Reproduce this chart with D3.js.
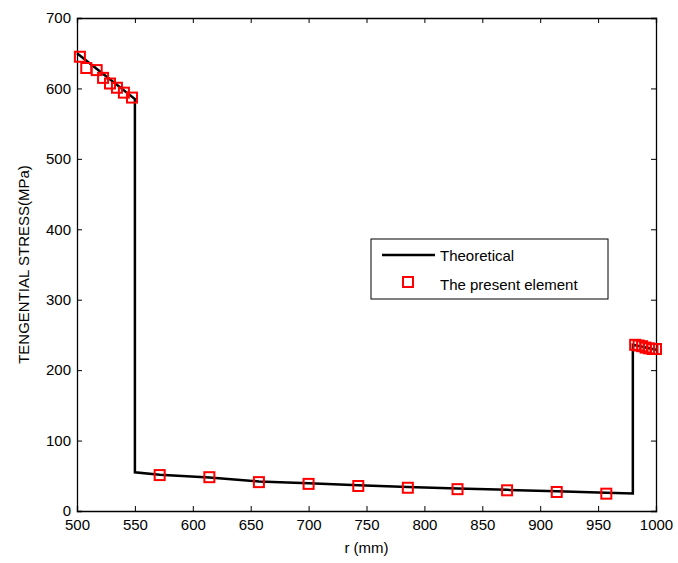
<!DOCTYPE html>
<html><head><meta charset="utf-8">
<script src="https://cdn.jsdelivr.net/npm/d3@7"></script>
<style>body{margin:0;background:#fff}svg{display:block}text{font-family:"Liberation Sans",Arial,sans-serif}</style>
</head><body><svg id="c" width="678" height="563"></svg>
<script>
const xTicks = [500,550,600,650,700,750,800,850,900,950,1000];
const yTicks = [0,100,200,300,400,500,600,700];
const theoR = [500,550,550,571.4,614.3,657.1,700,742.9,785.7,828.6,871.4,914.3,957.1,980,980,1000];
const theoS = [650,585,55,51.5,47.5,42,39.5,36.5,34,32,30,28,26,25,236,229];
const elemR = [502.5,508,517,522.5,528.5,534.5,540.5,547.5,571.4,614.3,657.1,700,742.9,785.7,828.6,871.4,914.3,957.1,982,985,988,991,994,997,1000];
const elemS = [645,629,626,615,607,601,594,587,51,48,41,38.5,35.5,33,31,29.4,27,24.6,236,235,234,232,231,230,230];

const svg = d3.select("#c");
const L=77,R=656,T=18,B=511;
const x = d3.scaleLinear().domain([500,1000]).range([L,R]);
const y = d3.scaleLinear().domain([0,700]).range([B,T]);

// axes
const tl=5;
const gx = svg.append("g").attr("transform",`translate(0,${B})`)
  .call(d3.axisBottom(x).tickValues(xTicks).tickSize(-tl).tickPadding(8).tickFormat(d3.format("d")));
const gy = svg.append("g").attr("transform",`translate(${L},0)`)
  .call(d3.axisLeft(y).tickValues(yTicks).tickSize(-tl).tickPadding(6).tickFormat(d3.format("d")));
const gxt = svg.append("g").attr("transform",`translate(0,${T})`)
  .call(d3.axisTop(x).tickValues(xTicks).tickSize(-tl).tickFormat(""));
const gyr = svg.append("g").attr("transform",`translate(${R},0)`)
  .call(d3.axisRight(y).tickValues(yTicks).tickSize(-tl).tickFormat(""));
[gx,gy,gxt,gyr].forEach(g=>{
  g.select(".domain").attr("stroke","#000").attr("stroke-width",1.3);
  g.selectAll(".tick line").attr("stroke","#000");
  g.selectAll(".tick text").attr("font-size",15).attr("fill","#000").style("font-family","'Liberation Sans',Arial,sans-serif");
});

// theoretical line
svg.append("path").datum(theoR.map((r,i)=>[r,theoS[i]]))
  .attr("fill","none").attr("stroke","#000").attr("stroke-width",2.5)
  .attr("d",d3.line().x(d=>x(d[0])).y(d=>y(d[1])));

// markers
const ms=10;
svg.append("g").selectAll("rect").data(elemR.map((r,i)=>[r,elemS[i]])).join("rect")
  .attr("x",d=>x(d[0])-ms/2).attr("y",d=>y(d[1])-ms/2).attr("width",ms).attr("height",ms)
  .attr("fill","none").attr("stroke","#ff0000").attr("stroke-width",2);

// labels
svg.append("text").attr("x",(L+R)/2).attr("y",553).attr("text-anchor","middle").attr("font-size",15).text("r (mm)");
svg.append("text").attr("transform",`translate(29,${(T+B)/2}) rotate(-90)`).attr("text-anchor","middle").attr("font-size",15).text("TENGENTIAL STRESS(MPa)");

// legend
const lg = svg.append("g");
lg.append("rect").attr("x",371).attr("y",239).attr("width",237).attr("height",60).attr("fill","#fff").attr("stroke","#000").attr("stroke-width",1);
lg.append("line").attr("x1",382).attr("x2",435).attr("y1",255).attr("y2",255).attr("stroke","#000").attr("stroke-width",2.5);
lg.append("text").attr("x",440).attr("y",261).attr("font-size",15).text("Theoretical");
lg.append("rect").attr("x",408-ms/2).attr("y",282-ms/2).attr("width",ms).attr("height",ms).attr("fill","none").attr("stroke","#ff0000").attr("stroke-width",2);
lg.append("text").attr("x",440).attr("y",290).attr("font-size",15).text("The present element");
</script></body></html>
